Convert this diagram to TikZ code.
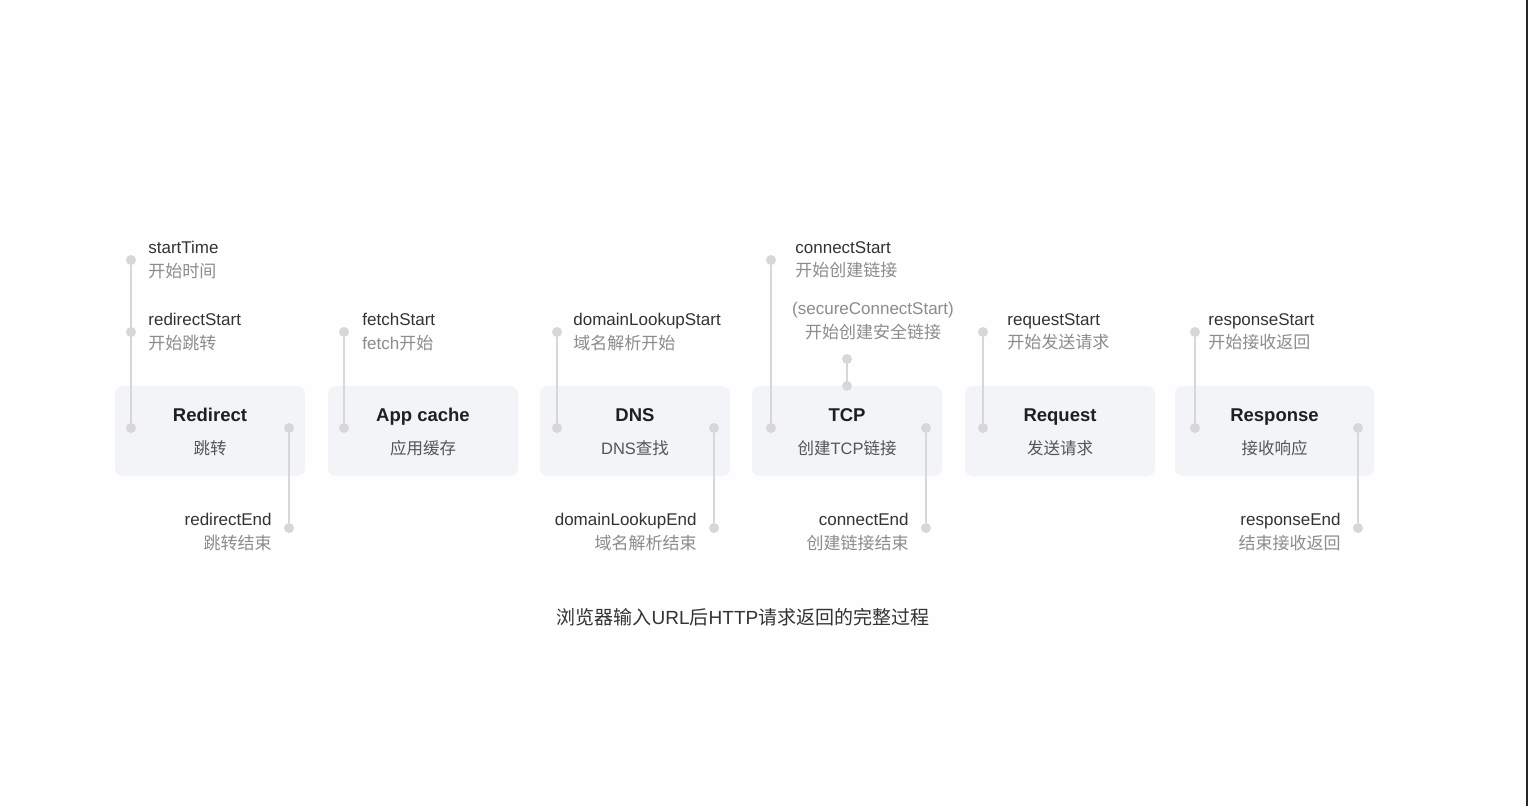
\documentclass[tikz,border=0pt]{standalone}
\usepackage{fontspec}
\setmainfont{Liberation Sans}
\newfontfamily\cjk{Noto Sans CJK SC}
\newfontfamily\lat{Liberation Sans}
\usetikzlibrary{positioning}
\definecolor{bgcol}{HTML}{FDFEFD}
\definecolor{boxfill}{HTML}{F2F4F7}
\definecolor{dotgray}{HTML}{D7D7D7}
\definecolor{namecol}{HTML}{333333}
\definecolor{desccol}{HTML}{8C8C8C}
\definecolor{subcol}{HTML}{555555}

\begin{document}
\begin{tikzpicture}[x=1pt,y=-1pt] % 1pt = 1 пиксель
\tikzstyle{mybox} = [rectangle, rounded corners=8pt, fill=boxfill, minimum width=190pt, minimum height=90pt, inner sep=0pt] % этап
\tikzstyle{mytitle} = [font=\fontsize{18.5}{20}\selectfont\bfseries, text=black!88, text height=13pt, text depth=0pt, inner sep=0pt]
\tikzstyle{mysub} = [font=\fontsize{16.5}{20}\selectfont\cjk, text=subcol, inner sep=0pt]
\tikzstyle{mydot} = [circle, fill=dotgray, minimum size=10pt, inner sep=0pt] % точка времени
\tikzstyle{myline} = [draw=dotgray, line width=2pt]
\tikzstyle{mylabel} = [font=\fontsize{17}{23.5}\selectfont, inner sep=0pt] % подпись точки

\useasboundingbox (0,0) rectangle (1528,806);
\fill[bgcol] (0,0) rectangle (1528,806);
\fill[black!85] (1526,0) rectangle (1528,806);

% этапы
\node[mybox] (redirect) at (210,431) {};
\node[mybox] (appcache) at (423,431) {};
\node[mybox] (dns) at (635,431) {};
\node[mybox] (tcp) at (847,431) {};
\node[mybox] (request) at (1060,431) {};
\node[mybox, minimum width=199pt] (response) at (1274.5,431) {};

\node[mytitle] at ([yshift=16pt]redirect.center) {Redirect};
\node[mysub] at ([yshift=-17pt]redirect.center) {跳转};
\node[mytitle] at ([yshift=16pt]appcache.center) {App cache};
\node[mysub] at ([yshift=-17pt]appcache.center) {应用缓存};
\node[mytitle] at ([yshift=16pt]dns.center) {DNS};
\node[mysub] at ([yshift=-17pt]dns.center) {{\lat DNS}查找};
\node[mytitle] at ([yshift=16pt]tcp.center) {TCP};
\node[mysub] at ([yshift=-17pt]tcp.center) {创建{\lat TCP}链接};
\node[mytitle] at ([yshift=16pt]request.center) {Request};
\node[mysub] at ([yshift=-17pt]request.center) {发送请求};
\node[mytitle] at ([yshift=16pt]response.center) {Response};
\node[mysub] at ([yshift=-17pt]response.center) {接收响应};

% точки
\node[mydot] (d-start) at (131,260) {};
\node[mydot] (d-rstart) at (131,332) {};
\node[mydot] (d-rin) at (131,428) {};
\node[mydot] (d-rout) at (289,428) {};
\node[mydot] (d-rend) at (289,528) {};
\node[mydot] (d-fstart) at (344,332) {};
\node[mydot] (d-fin) at (344,428) {};
\node[mydot] (d-dstart) at (557,332) {};
\node[mydot] (d-din) at (557,428) {};
\node[mydot] (d-dout) at (714,428) {};
\node[mydot] (d-dend) at (714,528) {};
\node[mydot] (d-cstart) at (771,260) {};
\node[mydot] (d-cin) at (771,428) {};
\node[mydot] (d-sstart) at (847,359) {};
\node[mydot] (d-sin) at (tcp.north) {};
\node[mydot] (d-cout) at (926,428) {};
\node[mydot] (d-cend) at (926,528) {};
\node[mydot] (d-qstart) at (983,332) {};
\node[mydot] (d-qin) at (983,428) {};
\node[mydot] (d-pstart) at (1195,332) {};
\node[mydot] (d-pin) at (1195,428) {};
\node[mydot] (d-pout) at (1358,428) {};
\node[mydot] (d-pend) at (1358,528) {};

\draw[myline] (d-start) -- (d-rin);
\draw[myline] (d-rout) -- (d-rend);
\draw[myline] (d-fstart) -- (d-fin);
\draw[myline] (d-dstart) -- (d-din);
\draw[myline] (d-dout) -- (d-dend);
\draw[myline] (d-cstart) -- (d-cin);
\draw[myline] (d-sstart) -- (d-sin);
\draw[myline] (d-cout) -- (d-cend);
\draw[myline] (d-qstart) -- (d-qin);
\draw[myline] (d-pstart) -- (d-pin);
\draw[myline] (d-pout) -- (d-pend);

% подписи
\node[mylabel, align=left, right=12pt of d-start, yshift=0pt] (l-start) {{\color{namecol}startTime}\\{\color{desccol}\cjk 开始时间}};
\node[mylabel, align=left, right=12pt of d-rstart, yshift=0pt] (l-rstart) {{\color{namecol}redirectStart}\\{\color{desccol}\cjk 开始跳转}};
\node[mylabel, align=right, left=12pt of d-rend, yshift=-4pt] (l-rend) {{\color{namecol}redirectEnd}\\{\color{desccol}\cjk 跳转结束}};
\node[mylabel, align=left, right=13pt of d-fstart, yshift=0pt] (l-fstart) {{\color{namecol}fetchStart}\\{\color{desccol}fetch{\cjk 开始}}};
\node[mylabel, align=left, right=11pt of d-dstart, yshift=0pt] (l-dstart) {{\color{namecol}domainLookupStart}\\{\color{desccol}\cjk 域名解析开始}};
\node[mylabel, align=right, left=12pt of d-dend, yshift=-4pt] (l-dend) {{\color{namecol}domainLookupEnd}\\{\color{desccol}\cjk 域名解析结束}};
\node[mylabel, align=left, right=19pt of d-cstart, yshift=0pt] (l-cstart) {{\color{namecol}connectStart}\\{\color{desccol}\cjk 开始创建链接}};
\node[mylabel, align=center, above=14pt of d-sstart, xshift=26pt] (l-sstart) {{\color{desccol}(secureConnectStart)}\\{\color{desccol}\cjk 开始创建安全链接}};
\node[mylabel, align=right, left=12pt of d-cend, yshift=-4pt] (l-cend) {{\color{namecol}connectEnd}\\{\color{desccol}\cjk 创建链接结束}};
\node[mylabel, align=left, right=19pt of d-qstart, yshift=0pt] (l-qstart) {{\color{namecol}requestStart}\\{\color{desccol}\cjk 开始发送请求}};
\node[mylabel, align=left, right=8pt of d-pstart, yshift=0pt] (l-pstart) {{\color{namecol}responseStart}\\{\color{desccol}\cjk 开始接收返回}};
\node[mylabel, align=right, left=12pt of d-pend, yshift=-4pt] (l-pend) {{\color{namecol}responseEnd}\\{\color{desccol}\cjk 结束接收返回}};

% заголовок
\node[font=\fontsize{19}{22}\selectfont\cjk, text=namecol] (caption) at (743,617) {浏览器输入{\lat URL}后{\lat HTTP}请求返回的完整过程};
\end{tikzpicture}
\end{document}
